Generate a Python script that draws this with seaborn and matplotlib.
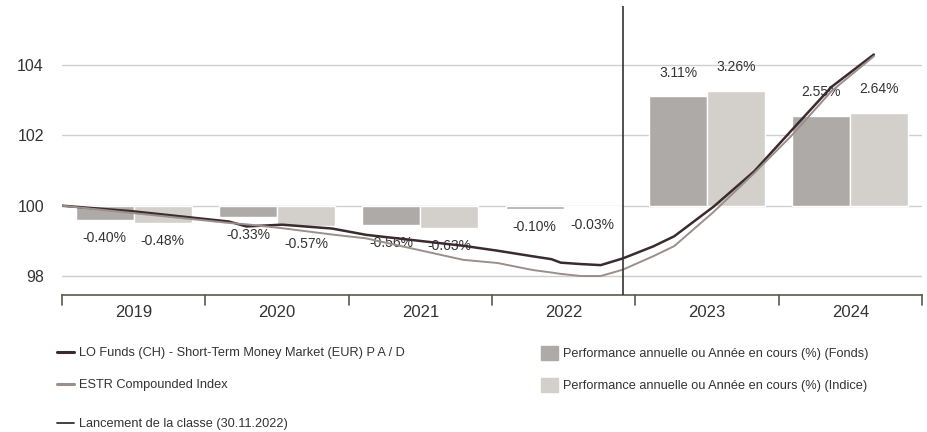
import numpy as np
import pandas as pd
import matplotlib
matplotlib.use("Agg")
import matplotlib.pyplot as plt
from matplotlib import font_manager
from matplotlib.lines import Line2D
from matplotlib.patches import Patch
import seaborn as sns

# Data
years = ["2019", "2020", "2021", "2022", "2023", "2024"]
perf_fund = [-0.40, -0.33, -0.56, -0.10, 3.11, 2.55]
perf_index = [-0.48, -0.57, -0.63, -0.03, 3.26, 2.64]

dates = ["2019-01-01", "2019-07-01", "2020-03-01", "2020-04-15", "2020-07-15",
         "2020-11-20", "2021-02-15", "2021-10-20", "2022-01-15", "2022-04-15",
         "2022-06-01", "2022-06-25", "2022-08-15", "2022-10-05", "2022-11-30",
         "2023-02-15", "2023-04-10", "2023-07-20", "2023-10-31", "2024-02-01",
         "2024-05-15", "2024-08-31"]
fund_line = [100.00, 99.84, 99.55, 99.41, 99.46, 99.35, 99.17, 98.86, 98.72, 98.56,
             98.48, 98.38, 98.34, 98.31, 98.50, 98.84, 99.13, 99.98, 100.98, 102.12,
             103.38, 104.30]
index_line = [100.00, 99.79, 99.51, 99.47, 99.36, 99.18, 99.07, 98.46, 98.37, 98.17,
              98.10, 98.06, 98.00, 98.00, 98.18, 98.56, 98.85, 99.83, 100.93, 101.97,
              103.26, 104.25]
launch_date = "2022-11-30"

fund_name = "LO Funds (CH) - Short-Term Money Market (EUR) P A / D"
index_name = "ESTR Compounded Index"
bar_fund_name = "Performance annuelle ou Année en cours (%) (Fonds)"
bar_index_name = "Performance annuelle ou Année en cours (%) (Indice)"
launch_name = "Lancement de la classe (30.11.2022)"

BASE = 100
C_FUND_BAR = "#aeaaa8"
C_INDEX_BAR = "#d3cfcb"
C_FUND_LINE = "#3b2a2e"
C_INDEX_LINE = "#9a8f8a"
C_AXIS = "#5a5a48"
TXT = "#333333"

sns.set_theme(style="white")

# the reference uses a narrow grotesque; take a narrow face if one is there
installed = {f.name for f in font_manager.fontManager.ttflist}
if "Liberation Sans Narrow" in installed:
    plt.rcParams["font.family"] = ["Liberation Sans Narrow", "DejaVu Sans"]
    SCALE = 1.15
else:
    plt.rcParams["font.family"] = ["Liberation Sans", "DejaVu Sans"]
    SCALE = 1.0


def to_pos(d):
    # date -> position on the categorical year axis (category i centred on i)
    ts = pd.Timestamp(d)
    start = pd.Timestamp(year=ts.year, month=1, day=1)
    end = pd.Timestamp(year=ts.year + 1, month=1, day=1)
    frac = (ts - start) / (end - start)
    return ts.year - int(years[0]) + frac - 0.5


bars = pd.DataFrame({
    "year": years * 2,
    "perf": perf_fund + perf_index,
    "series": ["Fonds"] * len(years) + ["Indice"] * len(years),
})
lines = pd.DataFrame({
    "pos": [to_pos(d) for d in dates] * 2,
    "value": fund_line + index_line,
    "series": [fund_name] * len(dates) + [index_name] * len(dates),
})

fig = plt.figure(figsize=(9.28, 4.32), dpi=100)
ax = fig.add_axes([62 / 928, 1 - 295 / 432, 860 / 928, 289 / 432])

for v in [98, 100, 102, 104]:
    ax.axhline(v, color="#cfcfcf", lw=1, zorder=0)

sns.barplot(data=bars, x="year", y="perf", hue="series", bottom=BASE,
            palette=[C_FUND_BAR, C_INDEX_BAR], width=0.81, saturation=1,
            legend=False, ax=ax, zorder=1)

# bar value labels
for cont in ax.containers:
    for rect, val in zip(cont, cont.datavalues):
        cx = rect.get_x() + rect.get_width() / 2
        off, va = (-8, "top") if val < 0 else (12, "bottom")
        ax.annotate(f"{val:.2f}%", (cx, BASE + val), xytext=(0, off),
                    textcoords="offset points", ha="center", va=va,
                    fontsize=10 * SCALE, color=TXT)

sns.lineplot(data=lines, x="pos", y="value", hue="series",
             palette=[C_FUND_LINE, C_INDEX_LINE], legend=False, ax=ax,
             zorder=3)
for ln, lw in zip(ax.lines[-2:], [1.8, 1.4]):
    ln.set_linewidth(lw)

ax.axvline(to_pos(launch_date), color="#333333", lw=1.2, zorder=4)

ax.set_xlim(-0.5, len(years) - 0.5)
ax.set_ylim(97.46, 105.68)
ax.set_yticks([98, 100, 102, 104])
ax.set_xticks(range(len(years)))
ax.set_xticklabels(years)
ax.set_xlabel("")
ax.set_ylabel("")
ax.tick_params(axis="y", length=0, pad=13, labelsize=11.5 * SCALE, labelcolor=TXT)
ax.tick_params(axis="x", length=0, pad=7, labelsize=12 * SCALE, labelcolor=TXT)
for s in ["top", "right", "left"]:
    ax.spines[s].set_visible(False)
ax.spines["bottom"].set_color(C_AXIS)
ax.spines["bottom"].set_linewidth(1.2)
# boundary ticks between years
for b in np.arange(-0.5, len(years), 1.0):
    ax.plot([b, b], [0, -0.035], transform=ax.get_xaxis_transform(),
            color=C_AXIS, lw=1.2, clip_on=False)


# legend: one row at a time, anchored at the row's left edge and centre
def legend_row(handle, label, x_px, y_px, **kw):
    lg = fig.legend(handles=[handle], labels=[label], loc="center left",
                    bbox_to_anchor=(x_px / 928, 1 - y_px / 432),
                    frameon=False, fontsize=9.2 * SCALE, labelcolor=TXT,
                    borderaxespad=0, borderpad=0, handletextpad=0.45, **kw)
    return lg


legend_row(Line2D([], [], color=C_FUND_LINE, lw=2.2), fund_name, 57, 353,
           handlelength=1.3)
legend_row(Line2D([], [], color=C_INDEX_LINE, lw=2.2), index_name, 57, 385,
           handlelength=1.3)
legend_row(Line2D([], [], color="#333333", lw=1.3), launch_name, 57, 424,
           handlelength=1.3)
legend_row(Patch(color=C_FUND_BAR), bar_fund_name, 541, 353,
           handlelength=1.3, handleheight=1.3)
legend_row(Patch(color=C_INDEX_BAR), bar_index_name, 541, 385,
           handlelength=1.3, handleheight=1.3)

fig.savefig("out.png", dpi=100)
